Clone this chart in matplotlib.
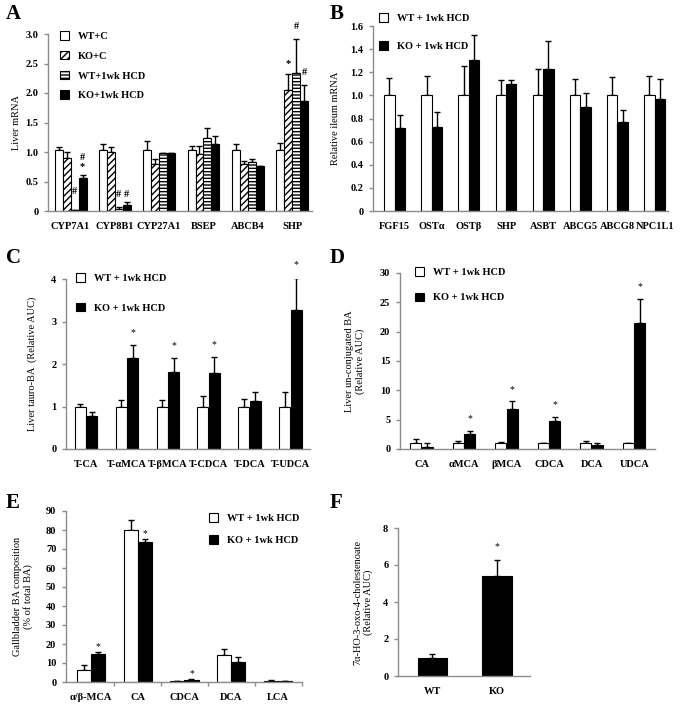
import numpy as np
import matplotlib
matplotlib.use("Agg")
import matplotlib.pyplot as plt
from matplotlib.patches import Patch

plt.rcParams['font.family'] = ['Liberation Serif', 'DejaVu Serif']
plt.rcParams['font.weight'] = 'bold'
plt.rcParams['font.size'] = 7.5
plt.rcParams['hatch.linewidth'] = 1.0

# ---- data -------------------------------------------------------
a_genes = ["CYP7A1", "CYP8B1", "CYP27A1", "BSEP", "ABCB4", "SHP"]
a_labels = ["WT+C", "KO+C", "WT+1wk HCD", "KO+1wk HCD"]
a_wt_c = [1.03, 1.03, 1.03, 1.03, 1.03, 1.03]
a_wt_c_err = [0.06, 0.11, 0.15, 0.08, 0.10, 0.13]
a_ko_c = [0.90, 1.00, 0.80, 0.96, 0.80, 2.05]
a_ko_c_err = [0.10, 0.09, 0.08, 0.15, 0.05, 0.27]
a_wt_hcd = [0.02, 0.04, 0.99, 1.23, 0.83, 2.34]
a_wt_hcd_err = [0.0, 0.02, 0.0, 0.18, 0.05, 0.58]
a_ko_hcd = [0.56, 0.10, 0.98, 1.14, 0.76, 1.87]
a_ko_hcd_err = [0.05, 0.05, 0.0, 0.13, 0.0, 0.26]

b_genes = ["FGF15", "OSTα", "OSTβ", "SHP", "ASBT", "ABCG5", "ABCG8", "NPC1L1"]
b_wt = [1.0, 1.0, 1.0, 1.0, 1.0, 1.0, 1.0, 1.0]
b_wt_err = [0.15, 0.17, 0.25, 0.13, 0.23, 0.14, 0.16, 0.17]
b_ko = [0.72, 0.73, 1.31, 1.10, 1.23, 0.90, 0.77, 0.97]
b_ko_err = [0.11, 0.13, 0.21, 0.03, 0.24, 0.12, 0.10, 0.17]

c_bas = ["T-CA", "T-αMCA", "T-βMCA", "T-CDCA", "T-DCA", "T-UDCA"]
c_wt = [0.98, 0.98, 0.98, 0.98, 0.98, 0.98]
c_wt_err = [0.08, 0.17, 0.17, 0.27, 0.19, 0.37]
c_ko = [0.78, 2.15, 1.82, 1.78, 1.12, 3.28]
c_ko_err = [0.09, 0.29, 0.32, 0.38, 0.21, 0.75]
c_star = [False, True, True, True, False, True]

d_bas = ["CA", "αMCA", "βMCA", "CDCA", "DCA", "UDCA"]
d_wt = [1.0, 1.0, 1.0, 1.0, 1.0, 1.0]
d_wt_err = [0.7, 0.4, 0.2, 0.1, 0.3, 0.0]
d_ko = [0.3, 2.6, 6.9, 4.8, 0.6, 21.5]
d_ko_err = [0.7, 0.5, 1.2, 0.7, 0.4, 4.1]
d_star = [False, True, True, True, False, True]

e_bas = ["α/β-MCA", "CA", "CDCA", "DCA", "LCA"]
e_wt = [6.2, 80.0, 0.5, 14.0, 0.7]
e_wt_err = [2.5, 5.5, 0.2, 3.5, 0.1]
e_ko = [14.8, 73.7, 1.3, 10.5, 0.6]
e_ko_err = [0.8, 1.5, 0.2, 2.5, 0.1]
e_star = [True, True, True, False, False]

f_groups = ["WT", "KO"]
f_vals = [1.0, 5.4]
f_err = [0.2, 0.85]

leg2 = ["WT + 1wk HCD", "KO + 1wk HCD"]

GRAY = "#8c8c8c"

fig = plt.figure(figsize=(6.83, 7.04), dpi=100)
W, H = 683.0, 704.0


def axes_px(l, r, t, b):
    return fig.add_axes([l / W, 1 - b / H, (r - l) / W, (b - t) / H])


def style(ax):
    for s in ["top", "right"]:
        ax.spines[s].set_visible(False)
    for s in ["left", "bottom"]:
        ax.spines[s].set_color(GRAY)
        ax.spines[s].set_linewidth(1.0)
    ax.tick_params(axis='y', color=GRAY, length=3, width=1, labelsize=7.5, pad=4)
    ax.tick_params(axis='x', length=0, labelsize=7.5, pad=8)


def ylabel_px(ax, text, right_px):
    # put the right edge of the rotated y label at a given pixel column
    ax.set_ylabel(text)
    bb = ax.get_position()
    xf = (right_px / W - bb.x0) / bb.width
    ax.yaxis.set_label_coords(xf, 0.5)


def bars(ax, x, vals, errs, w, **kw):
    ax.bar(x, vals, w, edgecolor='black', linewidth=0.8, zorder=2, **kw)
    ax.errorbar(x, vals, yerr=[np.zeros(len(vals)), errs], fmt='none',
                ecolor='black', elinewidth=1.0, capsize=2.5, capthick=1.0, zorder=1)


def legend_px(handles, labels, x, y, spacing):
    fig.legend(handles, labels, loc='upper left', bbox_to_anchor=(x / W, 1 - y / H),
               bbox_transform=fig.transFigure, frameon=False, borderpad=0,
               borderaxespad=0, handlelength=0.9, handleheight=0.9,
               handletextpad=0.8, labelspacing=spacing, fontsize=7.5)


white = dict(facecolor='white')
black = dict(facecolor='black')

# ---- A ----------------------------------------------------------
ax = axes_px(48, 312, 34, 211)
x = np.arange(len(a_genes))
w = 0.18
bars(ax, x - 1.5 * w, a_wt_c, a_wt_c_err, w, **white)
bars(ax, x - 0.5 * w, a_ko_c, a_ko_c_err, w, facecolor='white', hatch='/////')
bars(ax, x + 0.5 * w, a_wt_hcd, a_wt_hcd_err, w, facecolor='white', hatch='-----')
bars(ax, x + 1.5 * w, a_ko_hcd, a_ko_hcd_err, w, **black)
ax.set_xlim(-0.51, 5.45)
ax.set_ylim(0, 3.0)
ax.set_yticks([0, 0.5, 1.0, 1.5, 2.0, 2.5, 3.0])
ax.set_yticklabels(["0", "0.5", "1.0", "1.5", "2.0", "2.5", "3.0"])
ax.set_xticks(x)
ax.set_xticklabels(a_genes)
ylabel_px(ax, "Liver mRNA", 21)
style(ax)
for xi, yi, s in [(0 + 0.5 * w, 0.33, "#"), (0 + 1.5 * w, 0.76, "*"),
                  (0 + 1.5 * w, 0.90, "#"), (1 + 0.5 * w, 0.28, "#"),
                  (1 + 1.5 * w, 0.28, "#"), (5 - 0.5 * w, 2.50, "*"),
                  (5 + 0.5 * w, 3.12, "#"), (5 + 1.5 * w, 2.35, "#")]:
    ax.text(xi, yi, s, ha='center', va='center', fontsize=7.5, clip_on=False)
hA = [Patch(facecolor='white', edgecolor='black', linewidth=0.8),
      Patch(facecolor='white', edgecolor='black', hatch='/////', linewidth=0.8),
      Patch(facecolor='white', edgecolor='black', hatch='-----', linewidth=0.8),
      Patch(facecolor='black', edgecolor='black', linewidth=0.8)]
legend_px(hA, a_labels, 60, 31, 0.95)

h2 = [Patch(facecolor='white', edgecolor='black', linewidth=0.8),
      Patch(facecolor='black', edgecolor='black', linewidth=0.8)]

# ---- B ----------------------------------------------------------
ax = axes_px(373, 668, 26, 211)
x = np.arange(len(b_genes))
w = 0.28
bars(ax, x - 0.5 * w, b_wt, b_wt_err, w, **white)
bars(ax, x + 0.5 * w, b_ko, b_ko_err, w, **black)
ax.set_xlim(-0.58, 7.36)
ax.set_ylim(0, 1.6)
ax.set_yticks(np.arange(0, 1.61, 0.2))
ax.set_yticklabels(["0", "0.2", "0.4", "0.6", "0.8", "1.0", "1.2", "1.4", "1.6"])
ax.set_xticks(x)
ax.set_xticklabels(b_genes)
ylabel_px(ax, "Relative ileum mRNA", 340)
style(ax)
legend_px(h2, leg2, 379, 13, 1.75)

# ---- C ----------------------------------------------------------
ax = axes_px(66, 310, 279, 449)
x = np.arange(len(c_bas))
w = 0.27
bars(ax, x - 0.52 * w, c_wt, c_wt_err, w, **white)
bars(ax, x + 0.52 * w, c_ko, c_ko_err, w, **black)
ax.set_xlim(-0.49, 5.48)
ax.set_ylim(0, 4)
ax.set_yticks([0, 1, 2, 3, 4])
ax.set_xticks(x)
ax.set_xticklabels(c_bas)
ylabel_px(ax, "Liver tauro-BA  (Relative AUC)", 37)
style(ax)
for i in range(len(c_bas)):
    if c_star[i]:
        ax.text(x[i] + 0.52 * w, c_ko[i] + c_ko_err[i] + 0.3, "*", ha='center',
                va='center', fontsize=7, fontweight='normal', clip_on=False)
legend_px(h2, leg2, 76, 273, 1.9)

# ---- D ----------------------------------------------------------
ax = axes_px(400, 655, 273, 449)
x = np.arange(len(d_bas))
w = 0.26
bars(ax, x - 0.52 * w, d_wt, d_wt_err, w, **white)
bars(ax, x + 0.52 * w, d_ko, d_ko_err, w, **black)
ax.set_xlim(-0.51, 5.49)
ax.set_ylim(0, 30)
ax.set_yticks([0, 5, 10, 15, 20, 25, 30])
ax.set_xticks(x)
ax.set_xticklabels(d_bas)
ylabel_px(ax, "Liver un-conjugated BA\n(Relative AUC)", 365)
style(ax)
for i in range(len(d_bas)):
    if d_star[i]:
        ax.text(x[i] + 0.52 * w, d_ko[i] + d_ko_err[i] + 2.0, "*", ha='center',
                va='center', fontsize=7, fontweight='normal', clip_on=False)
legend_px(h2, leg2, 415, 267, 1.5)

# ---- E ----------------------------------------------------------
ax = axes_px(66, 302, 511, 682)
x = np.arange(len(e_bas))
w = 0.30
bars(ax, x - 0.5 * w, e_wt, e_wt_err, w, **white)
bars(ax, x + 0.5 * w, e_ko, e_ko_err, w, **black)
ax.set_xlim(-0.53, 4.51)
ax.set_ylim(0, 90)
ax.set_yticks(np.arange(0, 91, 10))
ax.set_xticks(x)
ax.set_xticklabels(e_bas)
ax.set_xticks(np.arange(0.5, 4.6, 1.0), minor=True)
ax.tick_params(axis='x', which='minor', color=GRAY, length=3, width=1)
ylabel_px(ax, "Gallbladder BA composition\n(% of total BA)", 33)
style(ax)
for i in range(len(e_bas)):
    if e_star[i]:
        ax.text(x[i] + 0.5 * w, e_ko[i] + e_ko_err[i] + 3.0, "*", ha='center',
                va='center', fontsize=7, fontweight='normal', clip_on=False)
legend_px(h2, leg2, 209, 513, 1.2)

# ---- F ----------------------------------------------------------
ax = axes_px(398, 530, 528, 676)
x = np.arange(len(f_groups))
bars(ax, x, f_vals, f_err, 0.45, **black)
ax.set_xlim(-0.53, 1.51)
ax.set_ylim(0, 8)
ax.set_yticks([0, 2, 4, 6, 8])
ax.set_xticks(x)
ax.set_xticklabels(f_groups)
ylabel_px(ax, "7α-HO-3-oxo-4-cholestenoate\n(Relative AUC)", 373)
style(ax)
ax.text(1, 7.0, "*", ha='center', va='center', fontsize=7, fontweight='normal')

# panel letters
for s, px, py in [("A", 6, 14), ("B", 330, 14), ("C", 6, 258),
                  ("D", 330, 258), ("E", 6, 503), ("F", 330, 503)]:
    fig.text(px / W, 1 - py / H, s, fontsize=15, fontweight='bold', va='center')

fig.savefig("out.png", dpi=100)
